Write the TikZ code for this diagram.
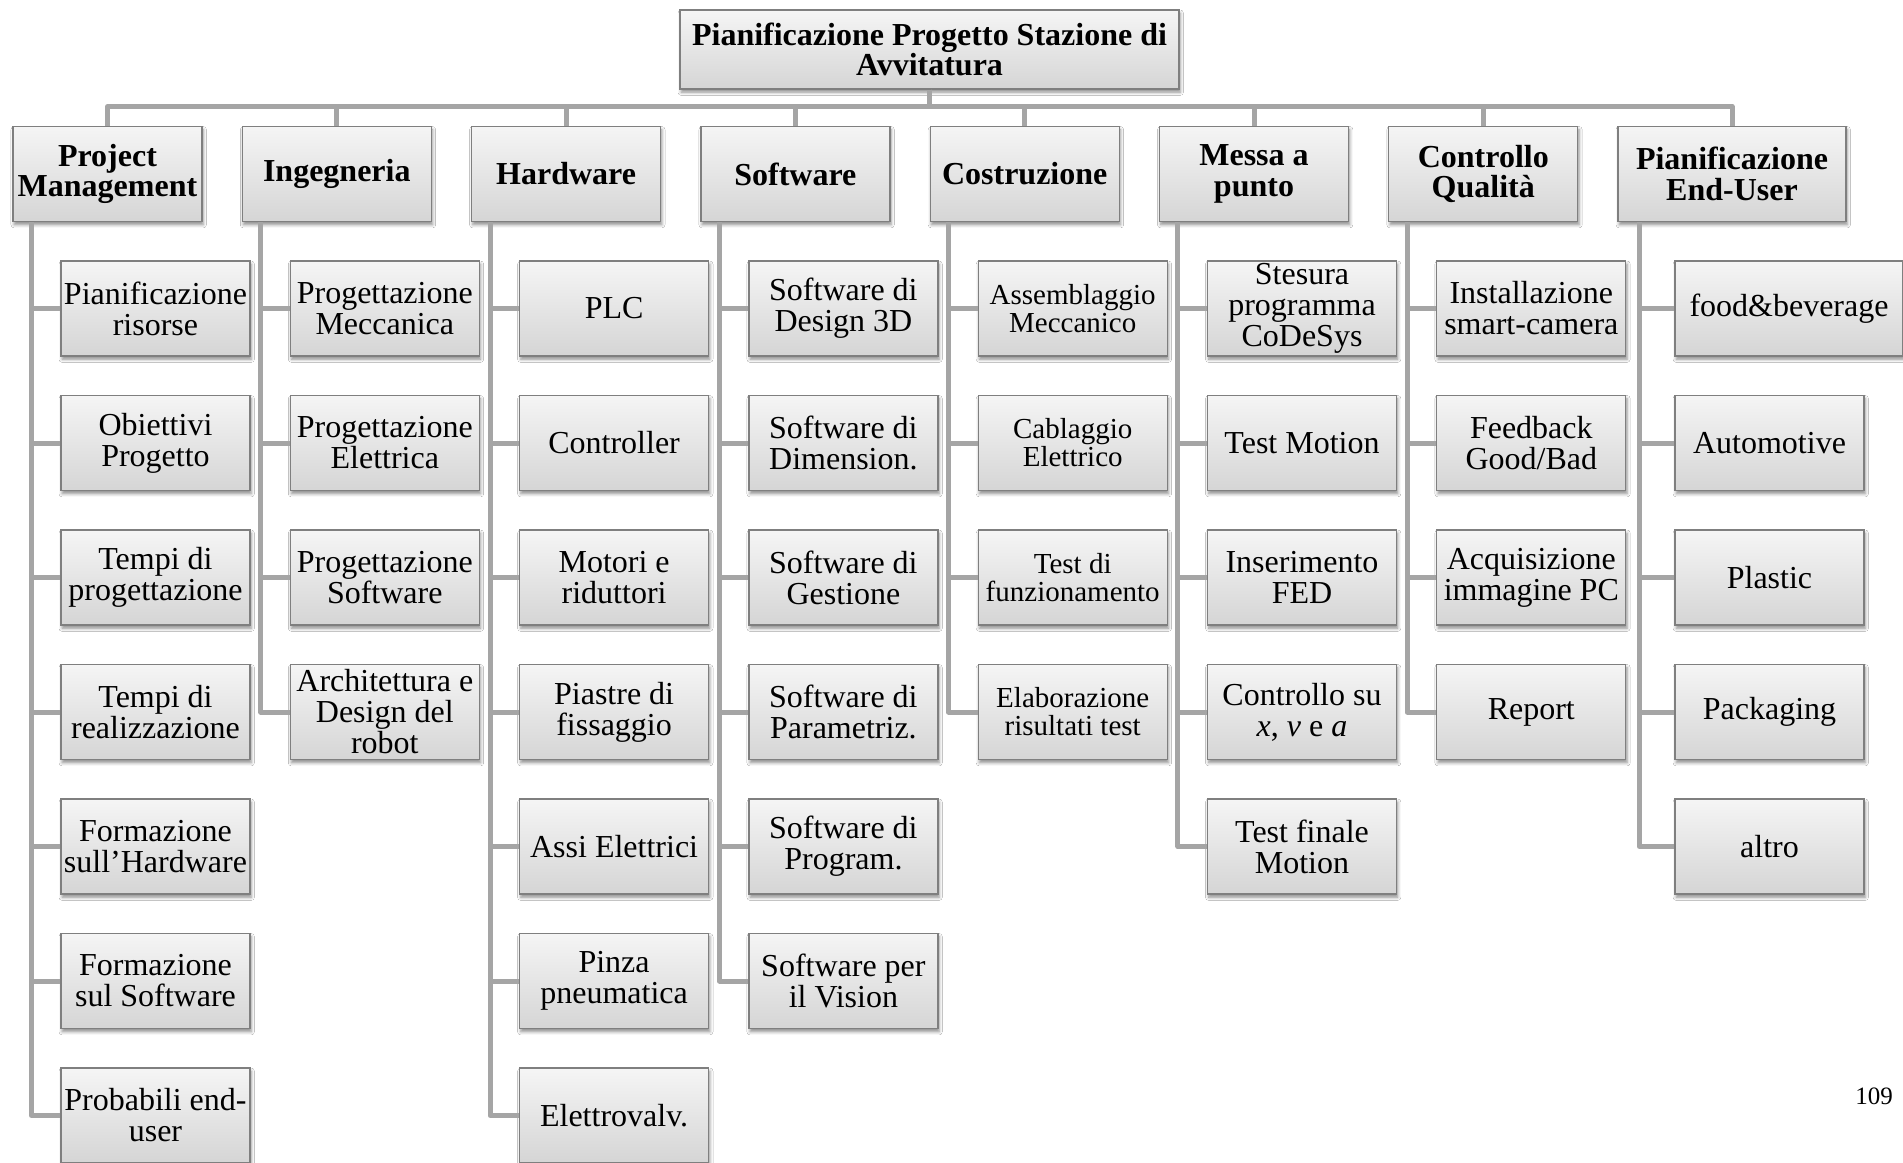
\documentclass[tikz,border=0pt]{standalone}
\usepackage{fontspec}
\setmainfont{Liberation Serif}
\usetikzlibrary{shadows.blur}
\definecolor{boxline}{HTML}{7F7F7F}
\definecolor{boxtop}{HTML}{F5F5F5}
\definecolor{boxbot}{HTML}{D5D5D5}
\definecolor{wirecol}{HTML}{A5A5A5}
\tikzset{
  box/.style={draw=boxline, line width=0.6pt, top color=boxtop, bottom color=boxbot,
    minimum width=94.5pt, minimum height=47.5pt, inner sep=1pt, align=center,
    blur shadow={shadow xshift=0.6pt, shadow yshift=-1.6pt, shadow blur radius=1.6pt, shadow opacity=45}},
  head/.style={box, font=\fontsize{16}{15.3}\selectfont\bfseries},
  leaf/.style={box, font=\fontsize{16}{15.5}\selectfont},
  leafsmall/.style={box, font=\fontsize{14.5}{14}\selectfont},
  wire/.style={draw=wirecol, line width=2.5pt, line join=round},
}
\begin{document}
\begin{tikzpicture}[x=0.5pt, y=-0.5pt]
\useasboundingbox (0,0) rectangle (1903,1163);
\fill[white] (0,0) rectangle (1903,1163);

% root
\node[head, minimum width=249.5pt, minimum height=39.5pt] (title) at (929.5,49.5)
  {Pianificazione Progetto Stazione di\\Avvitatura};

% second level
\node[head] (h0) at (107.5,174) {Project\\Management};
\node[head] (h1) at (336.8,174) {Ingegneria};
\node[head] (h2) at (566.1,174) {Hardware};
\node[head] (h3) at (795.4,174) {Software};
\node[head] (h4) at (1024.7,174) {Costruzione};
\node[head] (h5) at (1254,174) {Messa a\\punto};
\node[head] (h6) at (1483.3,174) {Controllo\\Qualità};
\node[head, minimum width=114pt] (h7) at (1732,174) {Pianificazione\\End-User};

% Project Management
\node[leaf] (c0-1) at (155.5,308.5) {Pianificazione\\risorse};
\node[leaf] (c0-2) at (155.5,443) {Obiettivi\\Progetto};
\node[leaf] (c0-3) at (155.5,577.5) {Tempi di\\progettazione};
\node[leaf] (c0-4) at (155.5,712) {Tempi di\\realizzazione};
\node[leaf] (c0-5) at (155.5,846.5) {Formazione\\sull'Hardware};
\node[leaf] (c0-6) at (155.5,981) {Formazione\\sul Software};
\node[leaf] (c0-7) at (155.5,1115.5) {Probabili end-\\user};

% Ingegneria
\node[leaf] (c1-1) at (384.8,308.5) {Progettazione\\Meccanica};
\node[leaf] (c1-2) at (384.8,443) {Progettazione\\Elettrica};
\node[leaf] (c1-3) at (384.8,577.5) {Progettazione\\Software};
\node[leaf] (c1-4) at (384.8,712) {Architettura e\\Design del\\robot};

% Hardware
\node[leaf] (c2-1) at (614.1,308.5) {PLC};
\node[leaf] (c2-2) at (614.1,443) {Controller};
\node[leaf] (c2-3) at (614.1,577.5) {Motori e\\riduttori};
\node[leaf] (c2-4) at (614.1,712) {Piastre di\\fissaggio};
\node[leaf] (c2-5) at (614.1,846.5) {Assi Elettrici};
\node[leaf] (c2-6) at (614.1,981) {Pinza\\pneumatica};
\node[leaf] (c2-7) at (614.1,1115.5) {Elettrovalv.};

% Software
\node[leaf] (c3-1) at (843.4,308.5) {Software di\\Design 3D};
\node[leaf] (c3-2) at (843.4,443) {Software di\\Dimension.};
\node[leaf] (c3-3) at (843.4,577.5) {Software di\\Gestione};
\node[leaf] (c3-4) at (843.4,712) {Software di\\Parametriz.};
\node[leaf] (c3-5) at (843.4,846.5) {Software di\\Program.};
\node[leaf] (c3-6) at (843.4,981) {Software per\\il Vision};

% Costruzione
\node[leafsmall] (c4-1) at (1072.7,308.5) {Assemblaggio\\Meccanico};
\node[leafsmall] (c4-2) at (1072.7,443) {Cablaggio\\Elettrico};
\node[leafsmall] (c4-3) at (1072.7,577.5) {Test di\\funzionamento};
\node[leafsmall] (c4-4) at (1072.7,712) {Elaborazione\\risultati test};

% Messa a punto
\node[leaf] (c5-1) at (1302,308.5) {Stesura\\programma\\CoDeSys};
\node[leaf] (c5-2) at (1302,443) {Test Motion};
\node[leaf] (c5-3) at (1302,577.5) {Inserimento\\FED};
\node[leaf] (c5-4) at (1302,712) {Controllo su\\\textit{x}, \textit{v} e \textit{a}};
\node[leaf] (c5-5) at (1302,846.5) {Test finale\\Motion};

% Controllo Qualita
\node[leaf] (c6-1) at (1531.3,308.5) {Installazione\\smart-camera};
\node[leaf] (c6-2) at (1531.3,443) {Feedback\\Good/Bad};
\node[leaf] (c6-3) at (1531.3,577.5) {Acquisizione\\immagine PC};
\node[leaf] (c6-4) at (1531.3,712) {Report};

% Pianificazione End-User
\node[leaf, minimum width=114pt] (c7-1) at (1789,308.5) {food\&beverage};
\node[leaf] (c7-2) at (1769.5,443) {Automotive};
\node[leaf] (c7-3) at (1769.5,577.5) {Plastic};
\node[leaf] (c7-4) at (1769.5,712) {Packaging};
\node[leaf] (c7-5) at (1769.5,846.5) {altro};

% page number
\node (pagenum) at (1874,1096) {\fontsize{12.5}{14}\selectfont 109};

% connectors: bus from the root, then a spine down each column
\foreach \c/\n/\s in {0/7/9.5pt,1/4/9.5pt,2/7/9.5pt,3/6/9.5pt,4/4/9.5pt,5/5/9.5pt,6/4/9.5pt,7/5/11pt}{
  \draw[wire] (title.south) -- ++(0,17) -| (h\c.north);
  \foreach \k in {1,...,\n}
    \draw[wire] ([xshift=\s]h\c.south west) |- (c\c-\k.west);
}
\end{tikzpicture}
\end{document}
